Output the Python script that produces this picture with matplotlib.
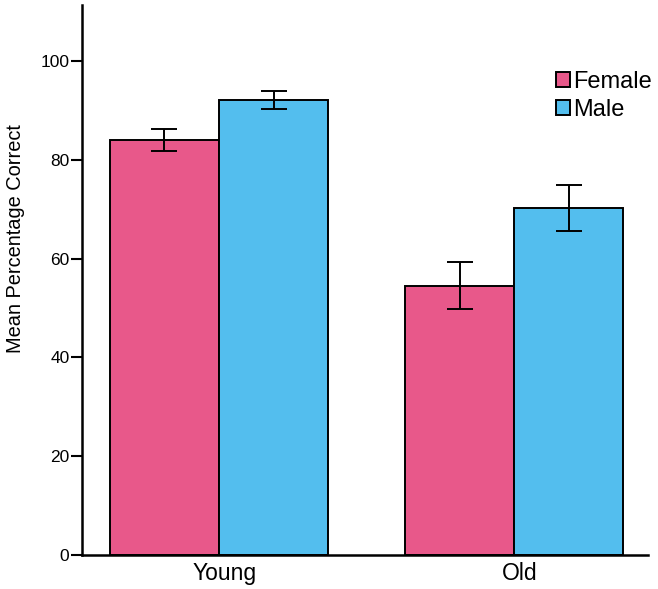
import numpy as np
import matplotlib.pyplot as plt
from matplotlib.transforms import ScaledTranslation

plt.rcParams['font.family'] = ['Liberation Sans', 'DejaVu Sans']

groups = ["Young", "Old"]
female = [84.0, 54.5]
male = [92.1, 70.2]
female_err = [2.3, 4.8]
male_err = [1.8, 4.6]

pink = "#E8588A"
blue = "#53BEEE"

x = np.arange(len(groups))
w = 0.37

fig = plt.figure(figsize=(6.58, 5.89), dpi=100)
ax = fig.add_axes([0.1246, 0.0577, 0.8604, 0.9338])

err_kw = dict(ecolor="black", elinewidth=1.4, capsize=9.5, capthick=1.4)
ax.bar(x - w / 2, female, w, yerr=female_err, color=pink, edgecolor="black",
       linewidth=1.4, label="Female", error_kw=err_kw)
ax.bar(x + w / 2, male, w, yerr=male_err, color=blue, edgecolor="black",
       linewidth=1.4, label="Male", error_kw=err_kw)

ax.set_xlim(-0.464, 1.454)
ax.set_ylim(0, 111.3)
ax.set_yticks([0, 20, 40, 60, 80, 100])
ax.set_xticks(x)
ax.set_xticklabels(groups, fontsize=16.5)
ax.tick_params(axis="x", length=0, pad=5)
ax.tick_params(axis="y", length=8, width=1.5, labelsize=12.5, pad=1)
# category labels sit a little right of the group centre in the original
shift = ScaledTranslation(0.06, 0, fig.dpi_scale_trans)
for lab in ax.get_xticklabels():
    lab.set_transform(lab.get_transform() + shift)
ax.set_ylabel("Mean Percentage Correct", fontsize=14.4)
ax.yaxis.set_label_coords(-0.10, 0.575)

for s in ["top", "right"]:
    ax.spines[s].set_visible(False)
for s in ["left", "bottom"]:
    ax.spines[s].set_linewidth(1.8)

ax.legend(loc="upper left", bbox_to_anchor=(0.816, 0.901), frameon=False,
          fontsize=17, handlelength=0.6, handleheight=0.6, borderpad=0,
          handletextpad=0.15, labelspacing=0.25)

fig.savefig("out.png", dpi=100)
